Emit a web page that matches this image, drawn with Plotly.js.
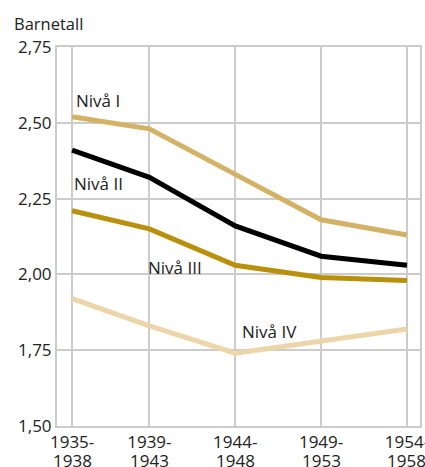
<!DOCTYPE html>
<html>
<head>
<meta charset="utf-8">
<script src="https://cdn.plot.ly/plotly-3.0.1.min.js"></script>
<style>html,body{margin:0;padding:0;background:#fff;}#chart{width:425px;height:467px;}</style>
</head>
<body>
<div id="chart"></div>
<script>
// Period midpoints (years) and their labels (two lines each)
const periodMid = [1936.5, 1941, 1946, 1951, 1956];
const periodStart = ["1935-", "1939-", "1944-", "1949-", "1954-"];
const periodEnd = ["1938", "1943", "1948", "1953", "1958"];

const seriesNames = ["Nivå I", "Nivå II", "Nivå III", "Nivå IV"];
const nivaI   = [2.52, 2.48, 2.33, 2.18, 2.13];
const nivaII  = [2.41, 2.32, 2.16, 2.06, 2.03];
const nivaIII = [2.21, 2.15, 2.03, 1.99, 1.98];
const nivaIV  = [1.92, 1.83, 1.74, 1.78, 1.82];

const yTickVals = [1.50, 1.75, 2.00, 2.25, 2.50, 2.75];
const yTickText = ["1,50", "1,75", "2,00", "2,25", "2,50", "2,75"];

const colors = ["#d4b265", "#000000", "#b8900b", "#ecd5a8"];
const values = [nivaI, nivaII, nivaIII, nivaIV];

const traces = values.map((v, i) => ({
  x: periodMid, y: v, type: "scatter", mode: "lines", name: seriesNames[i],
  line: {color: colors[i], width: 5}, hoverinfo: "skip", cliponaxis: false
})).reverse();

// label positions (data coords)
const labelX = [1936.61, 1936.50, 1940.82, 1946.27];
const labelY = [2.572, 2.301, 2.024, 1.813];

const annotations = seriesNames.map((n, i) => ({
  text: n, x: labelX[i], y: labelY[i], xref: "x", yref: "y",
  xanchor: "left", yanchor: "middle", showarrow: false,
  font: {size: 17, color: "#222"}
}));
annotations.push({
  text: "Barnetall", xref: "paper", yref: "paper",
  x: (12 - 57) / 363, y: 1 + (47 - 24) / 379, xanchor: "left", yanchor: "middle",
  showarrow: false, font: {size: 16.5, color: "#222"}
});
// second line of the period labels
periodEnd.forEach((t, i) => annotations.push({
  text: t, x: periodMid[i], xref: "x", yref: "paper",
  y: (426 - 460) / 379, xanchor: "center", yanchor: "middle",
  showarrow: false, font: {size: 17, color: "#222"}
}));

const layout = {
  width: 425, height: 467,
  margin: {l: 57, r: 5, t: 47, b: 41, pad: 0},
  paper_bgcolor: "#fff", plot_bgcolor: "#fff",
  font: {family: "Open Sans, sans-serif", size: 17, color: "#222"},
  showlegend: false,
  xaxis: {
    range: [1935.62, 1956.76], tickvals: periodMid, ticktext: periodStart,
    showgrid: true, gridcolor: "#cccccc", gridwidth: 2,
    showline: true, linecolor: "#cccccc", linewidth: 2, mirror: true,
    zeroline: false, ticks: "", ticklabeloverflow: "allow",
    tickfont: {size: 17, color: "#222"}
  },
  yaxis: {
    range: [1.5, 2.75], tickvals: yTickVals, ticktext: yTickText,
    showgrid: true, gridcolor: "#cccccc", gridwidth: 2,
    showline: true, linecolor: "#cccccc", linewidth: 2, mirror: true,
    zeroline: false, ticks: "", tickfont: {size: 17, color: "#222"}
  },
  annotations: annotations
};

Plotly.newPlot("chart", traces, layout, {staticPlot: true, displayModeBar: false});
</script>
</body>
</html>
